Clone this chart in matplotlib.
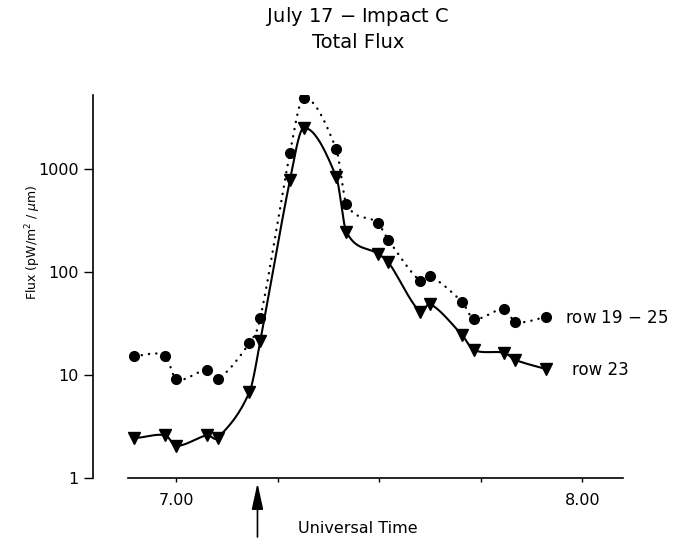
import numpy as np
import matplotlib
matplotlib.use("Agg")
import matplotlib.pyplot as plt
from matplotlib.ticker import FixedLocator, FuncFormatter, NullLocator

# Universal time (hours) of each frame
ut = [6.897, 6.973, 7.000, 7.076, 7.102, 7.180, 7.207, 7.280, 7.314, 7.394,
      7.419, 7.496, 7.522, 7.600, 7.625, 7.704, 7.732, 7.808, 7.835, 7.911]

# total flux, rows 19-25 (dotted, circles)
flux_rows = [15.3, 15.3, 9.1, 11.2, 9.1, 20.4, 35.7, 1430, 4900, 1560,
             457, 299, 205, 82, 91, 51, 35, 43.7, 32.7, 36.6]

# total flux, row 23 (solid, triangles)
flux_row23 = [2.45, 2.6, 2.05, 2.6, 2.45, 6.8, 21.4, 782, 2500, 836,
              244, 150, 125, 41, 49, 24.4, 17.5, 16.4, 14.0, 11.4]

impact_time = 7.20


def smooth_curve(x, y, n=40):
    # cubic hermite curve through the points (finite difference slopes),
    # used only to draw the connecting line
    x = np.asarray(x, float)
    y = np.asarray(y, float)
    m = np.zeros(len(x))
    m[1:-1] = (y[2:] - y[:-2]) / (x[2:] - x[:-2])
    m[0] = 0.0
    m[-1] = (y[-1] - y[-2]) / (x[-1] - x[-2])
    xs, ys = [], []
    for i in range(len(x) - 1):
        h = x[i + 1] - x[i]
        t = np.linspace(0, 1, n, endpoint=False)
        h00 = 2 * t**3 - 3 * t**2 + 1
        h10 = t**3 - 2 * t**2 + t
        h01 = -2 * t**3 + 3 * t**2
        h11 = t**3 - t**2
        xs.append(x[i] + t * h)
        ys.append(h00 * y[i] + h10 * h * m[i] + h01 * y[i + 1] + h11 * h * m[i + 1])
    xs.append([x[-1]])
    ys.append([y[-1]])
    return np.concatenate(xs), np.concatenate(ys)


fig = plt.figure(figsize=(6.82, 5.38), dpi=100)
ax = fig.add_axes([93 / 682, 60 / 538, 530 / 682, 383 / 538])

xs, ys = smooth_curve(ut, np.log10(flux_rows))
ax.plot(xs, 10 ** ys, color="black", lw=1.7, linestyle=(0, (0.1, 3.0)),
        dash_capstyle="round")
ax.plot(ut, flux_rows, "o", color="black", ms=7)

xs, ys = smooth_curve(ut, np.log10(flux_row23))
ax.plot(xs, 10 ** ys, color="black", lw=1.5)
ax.plot(ut, flux_row23, "v", color="black", ms=8)

ax.set_yscale("log")
ax.set_xlim(6.795, 8.10)
ax.set_ylim(1, 10 ** 3.718)

ax.spines["top"].set_visible(False)
ax.spines["right"].set_visible(False)
ax.spines["bottom"].set_bounds(6.88, 8.10)
ax.spines["left"].set_linewidth(1.2)
ax.spines["bottom"].set_linewidth(1.2)

ax.yaxis.set_major_locator(FixedLocator([1, 10, 100, 1000]))
ax.yaxis.set_minor_locator(NullLocator())
ax.yaxis.set_major_formatter(FuncFormatter(lambda v, p: "%d" % v))
ax.tick_params(axis="y", direction="out", length=6.5, width=1, pad=4,
               labelsize=11.5)

ax.xaxis.set_major_locator(FixedLocator([7.0, 7.25, 7.5, 7.75, 8.0]))
ax.xaxis.set_major_formatter(
    FuncFormatter(lambda v, p: "%.2f" % v if abs(v - round(v)) < 1e-6 else ""))
ax.tick_params(axis="x", direction="out", length=3, width=1, pad=8,
               labelsize=11.5)

ax.set_xlabel("Universal Time", fontsize=11.5, labelpad=9)
ax.set_ylabel(r"Flux (pW/m$^2$ / $\mu$m)", fontsize=9)
ax.yaxis.set_label_coords(-0.094, 0.616)

ax.text(7.958, 35.8, "row 19 $-$ 25", fontsize=12, va="center", ha="left")
ax.text(7.975, 11.2, "row 23", fontsize=12, va="center", ha="left")

fig.text(358 / 682, 1 - 17 / 538, "July 17 $-$ Impact C", fontsize=14,
         ha="center", va="center")
fig.text(358 / 682, 1 - 42 / 538, "Total Flux", fontsize=14,
         ha="center", va="center")

# impact arrow below the time axis
ax.annotate("", xy=(impact_time, 1 - 483 / 538),
            xytext=(impact_time, 1 - 537 / 538),
            xycoords=("data", "figure fraction"),
            textcoords=("data", "figure fraction"),
            arrowprops=dict(arrowstyle="-|>,head_length=1.6,head_width=0.35",
                            color="black", lw=1.2, shrinkA=0, shrinkB=0),
            annotation_clip=False)

fig.savefig("out.png", dpi=100)
